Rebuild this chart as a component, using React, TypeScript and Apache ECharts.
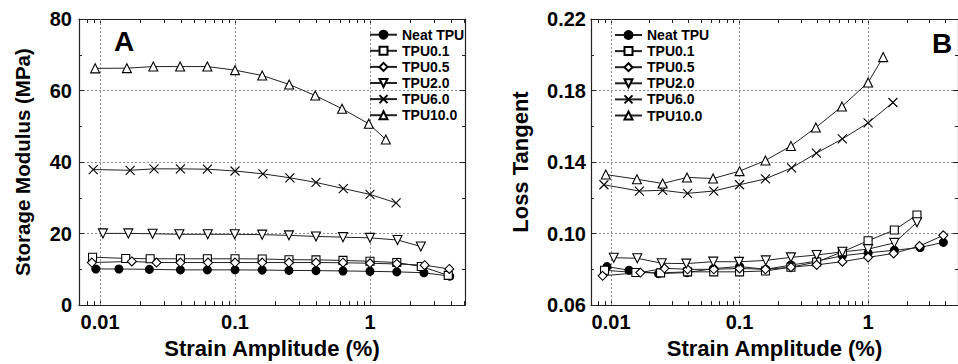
import React, { useEffect, useRef } from 'react';
import * as echarts from 'echarts';

const seriesNames = ['Neat TPU', 'TPU0.1', 'TPU0.5', 'TPU2.0', 'TPU6.0', 'TPU10.0'];

// Panel A: storage modulus (MPa) vs strain amplitude (%)
const strainA_neat = [0.0093, 0.0138, 0.0232, 0.0394, 0.0624, 0.1, 0.159, 0.251, 0.398, 0.631, 1.0, 1.58, 2.51, 3.9];
const modA_neat = [10.1, 10.1, 10.0, 9.85, 9.85, 9.85, 9.8, 9.7, 9.65, 9.55, 9.45, 9.3, 9.05, 8.1];
const strainA_01 = [0.0088, 0.0155, 0.0235, 0.0394, 0.0624, 0.1, 0.159, 0.251, 0.398, 0.631, 1.0, 1.58, 2.4, 3.8];
const modA_01 = [13.4, 13.05, 12.95, 12.95, 12.95, 12.95, 12.9, 12.7, 12.65, 12.5, 12.25, 11.9, 10.8, 8.3];
const strainA_05 = [0.0087, 0.0172, 0.0262, 0.0394, 0.0631, 0.1, 0.159, 0.251, 0.398, 0.631, 1.0, 1.58, 2.54, 3.87];
const modA_05 = [11.9, 12.2, 11.9, 11.9, 11.9, 11.9, 11.9, 11.9, 11.9, 11.85, 11.7, 11.5, 11.15, 10.1];
const strainA_20 = [0.0105, 0.0162, 0.0245, 0.0387, 0.0628, 0.0995, 0.159, 0.251, 0.398, 0.631, 1.0, 1.6, 2.38];
const modA_20 = [20.05, 20.05, 19.95, 19.8, 19.8, 19.8, 19.7, 19.5, 19.2, 19.0, 18.8, 18.2, 16.4];
const strainA_60 = [0.0089, 0.0167, 0.0251, 0.0394, 0.0624, 0.1, 0.161, 0.255, 0.398, 0.634, 1.0, 1.56];
const modA_60 = [37.9, 37.7, 38.1, 38.1, 38.0, 37.5, 36.7, 35.6, 34.3, 32.6, 30.95, 28.6];
const strainA_100 = [0.0092, 0.0158, 0.0248, 0.0392, 0.0624, 0.1, 0.159, 0.252, 0.393, 0.621, 0.98, 1.31];
const modA_100 = [66.2, 66.25, 66.7, 66.7, 66.7, 65.7, 64.2, 61.7, 58.6, 54.9, 50.7, 46.3];

// Panel B: loss tangent vs strain amplitude (%)
const strainB_neat = [0.0093, 0.0138, 0.0234, 0.039, 0.0625, 0.1, 0.16, 0.251, 0.398, 0.631, 1.0, 1.6, 2.54, 3.85];
const tanB_neat = [0.0815, 0.0795, 0.0776, 0.0782, 0.0804, 0.0816, 0.08, 0.0824, 0.0846, 0.0876, 0.0892, 0.0907, 0.0922, 0.0951];
const strainB_01 = [0.0089, 0.0156, 0.0243, 0.0394, 0.063, 0.1, 0.159, 0.251, 0.398, 0.631, 1.0, 1.6, 2.4];
const tanB_01 = [0.0795, 0.0782, 0.078, 0.0786, 0.0786, 0.0786, 0.0791, 0.0812, 0.0841, 0.0898, 0.096, 0.102, 0.1104];
const strainB_05 = [0.0086, 0.0169, 0.026, 0.0394, 0.063, 0.1, 0.159, 0.251, 0.398, 0.631, 1.0, 1.58, 2.51, 3.85];
const tanB_05 = [0.0764, 0.0782, 0.0806, 0.08, 0.08, 0.0805, 0.08, 0.0812, 0.0825, 0.0843, 0.0867, 0.0889, 0.093, 0.099];
const strainB_20 = [0.0105, 0.016, 0.0248, 0.0385, 0.0625, 0.099, 0.16, 0.251, 0.398, 0.631, 1.0, 1.6, 2.4];
const tanB_20 = [0.0865, 0.0862, 0.0834, 0.0832, 0.0843, 0.0842, 0.085, 0.0867, 0.088, 0.0898, 0.0913, 0.0948, 0.1063];
const strainB_60 = [0.0088, 0.0166, 0.0252, 0.0394, 0.063, 0.1, 0.159, 0.254, 0.396, 0.63, 1.0, 1.56];
const tanB_60 = [0.1273, 0.1238, 0.1242, 0.1225, 0.1238, 0.1273, 0.1306, 0.1367, 0.145, 0.1529, 0.1619, 0.1733];
const strainB_100 = [0.0091, 0.0159, 0.0252, 0.039, 0.0622, 0.1, 0.159, 0.251, 0.392, 0.626, 1.0, 1.31];
const tanB_100 = [0.133, 0.1304, 0.128, 0.1314, 0.1308, 0.1349, 0.1409, 0.149, 0.1593, 0.1711, 0.1845, 0.1987];

const strainTickValues = [0.007, 0.008, 0.009, 0.01, 0.02, 0.03, 0.04, 0.05, 0.06, 0.07, 0.08, 0.09, 0.1, 0.2, 0.3, 0.4, 0.5, 0.6, 0.7, 0.8, 0.9, 1, 2, 3, 4, 5];
const strainLabelValues = [0.01, 0.1, 1];
const strainLabelTexts = ['0.01', '0.1', '1'];

const FONT = '"Liberation Sans", Arial, Helvetica, sans-serif';

const symbolStyles = [
  { symbol: 'circle', size: 8, fill: '#000', rotate: 0 },
  { symbol: 'rect', size: 8, fill: '#fff', rotate: 0 },
  { symbol: 'diamond', size: 9, fill: '#fff', rotate: 0 },
  { symbol: 'triangle', size: 9, fill: '#fff', rotate: 180 },
  { symbol: 'path://M0,0L10,10M10,0L0,10', size: 9, fill: '#000', rotate: 0 },
  { symbol: 'triangle', size: 9, fill: '#fff', rotate: 0 },
];

const lg = (v: number) => Math.log10(v);

export default function App() {
  const ref = useRef<HTMLDivElement>(null);
  useEffect(() => {
    if (!ref.current) return;
    const chart = echarts.init(ref.current, undefined, { renderer: 'svg' });

    const dataA = [
      [strainA_neat, modA_neat], [strainA_01, modA_01], [strainA_05, modA_05],
      [strainA_20, modA_20], [strainA_60, modA_60], [strainA_100, modA_100],
    ];
    const dataB = [
      [strainB_neat, tanB_neat], [strainB_01, tanB_01], [strainB_05, tanB_05],
      [strainB_20, tanB_20], [strainB_60, tanB_60], [strainB_100, tanB_100],
    ];

    const gridLine = { color: '#8a8a8a', type: [2, 2] as any, width: 1 };
    const axisLineStyle = { color: '#222', width: 1.2 };

    const mkSeries = (data: number[][][], xi: number, yi: number) =>
      data.map(([xs, ys], i) => {
        const st = symbolStyles[i];
        const s: any = {
          type: 'line',
          name: seriesNames[i],
          xAxisIndex: xi,
          yAxisIndex: yi,
          data: xs.map((x, k) => [lg(x), ys[k]]),
          symbol: st.symbol,
          symbolSize: st.size,
          symbolRotate: st.rotate,
          showAllSymbol: true,
          lineStyle: { color: '#222', width: 1 },
          itemStyle: { color: st.fill, borderColor: '#000', borderWidth: 1.1 },
          emphasis: { disabled: true },
          z: 3,
        };
        if (i === 0) {
          s.markLine = {
            silent: true,
            symbol: 'none',
            z: 1,
            label: { show: false },
            lineStyle: gridLine,
            data: strainLabelValues.map((v) => ({ xAxis: lg(v) })),
          };
        }
        return s;
      });

    const xAxisBase = (gi: number, min: number, max: number, pos: 'bottom' | 'top', labels: boolean) => ({
      type: 'value',
      gridIndex: gi,
      position: pos,
      min,
      max,
      axisLine: { show: true, onZero: false, lineStyle: axisLineStyle },
      axisTick: {
        show: true,
        inside: true,
        length: 4,
        customValues: strainTickValues.map(lg),
        lineStyle: { color: '#222', width: 1 },
      },
      axisLabel: {
        show: labels,
        customValues: strainLabelValues.map(lg),
        formatter: (v: number) => strainLabelTexts[Math.round(v) + 2] ?? '',
        fontSize: 20,
        fontWeight: 'bold',
        fontFamily: FONT,
        color: '#000',
        margin: 7,
      },
      splitLine: { show: false },
      name: labels ? 'Strain Amplitude (%)' : '',
      nameLocation: 'middle',
      nameGap: 31,
      nameTextStyle: { fontSize: 22, fontWeight: 'bold', fontFamily: FONT, color: '#000' },
    });

    const yAxisBase = (gi: number, min: number, max: number, interval: number, pos: 'left' | 'right', labels: boolean, name: string, nameGap: number, dec: number, margin: number, nameSize: number) => ({
      type: 'value',
      gridIndex: gi,
      position: pos,
      min,
      max,
      interval,
      axisLine: { show: true, onZero: false, lineStyle: axisLineStyle },
      axisTick: { show: true, inside: true, length: 5, lineStyle: { color: '#222', width: 1 } },
      minorTick: { show: true, splitNumber: 2, length: 3, lineStyle: { color: '#222', width: 1 } },
      axisLabel: {
        show: labels,
        formatter: (v: number) => v.toFixed(dec),
        fontSize: 20,
        fontWeight: 'bold',
        fontFamily: FONT,
        color: '#000',
        margin,
      },
      splitLine: { show: labels, lineStyle: gridLine },
      name: labels ? name : '',
      nameLocation: 'middle',
      nameGap,
      nameTextStyle: { fontSize: nameSize, fontWeight: 'bold', fontFamily: FONT, color: '#000' },
    });

    const legendBase = (left: number, top: number) => ({
      orient: 'vertical',
      left,
      top,
      padding: 0,
      itemWidth: 27,
      itemHeight: 10,
      itemGap: 2.1,
      selectedMode: false,
      data: seriesNames,
      textStyle: { fontSize: 14, fontWeight: 'bold', fontFamily: FONT, color: '#000', lineHeight: 14 },
    });

    const minA = -2.156, maxA = 0.704;
    const minB = -2.156, maxB = 0.6995;

    chart.setOption({
      animation: false,
      backgroundColor: '#fff',
      grid: [
        { left: 79, top: 19, width: 386, height: 290 },
        { left: 591, top: 19, width: 374, height: 290 },
      ],
      xAxis: [
        xAxisBase(0, minA, maxA, 'bottom', true),
        xAxisBase(0, minA, maxA, 'top', false),
        xAxisBase(1, minB, maxB, 'bottom', true),
        xAxisBase(1, minB, maxB, 'top', false),
      ],
      yAxis: [
        yAxisBase(0, 0, 80, 20, 'left', true, 'Storage Modulus (MPa)', 46, 0, 7, 20.5),
        yAxisBase(0, 0, 80, 20, 'right', false, '', 0, 0, 7, 20),
        yAxisBase(1, 0.06, 0.22, 0.04, 'left', true, 'Loss Tangent', 60, 2, 5, 22),
        yAxisBase(1, 0.06, 0.22, 0.04, 'right', false, '', 0, 2, 5, 20),
      ],
      legend: [legendBase(369, 27.7), legendBase(614, 28)],
      graphic: [
        { type: 'text', x: 124, y: 41, style: { text: 'A', font: `bold 28px ${FONT}`, fill: '#000', align: 'center', verticalAlign: 'middle' } },
        { type: 'text', x: 942, y: 43, style: { text: 'B', font: `bold 28px ${FONT}`, fill: '#000', align: 'center', verticalAlign: 'middle' } },
      ],
      series: [...mkSeries(dataA, 0, 0), ...mkSeries(dataB, 2, 2)],
    });

    return () => chart.dispose();
  }, []);

  return <div ref={ref} style={{ position: 'fixed', left: 0, top: 0, width: 958, height: 364, background: '#fff' }} />;
}
